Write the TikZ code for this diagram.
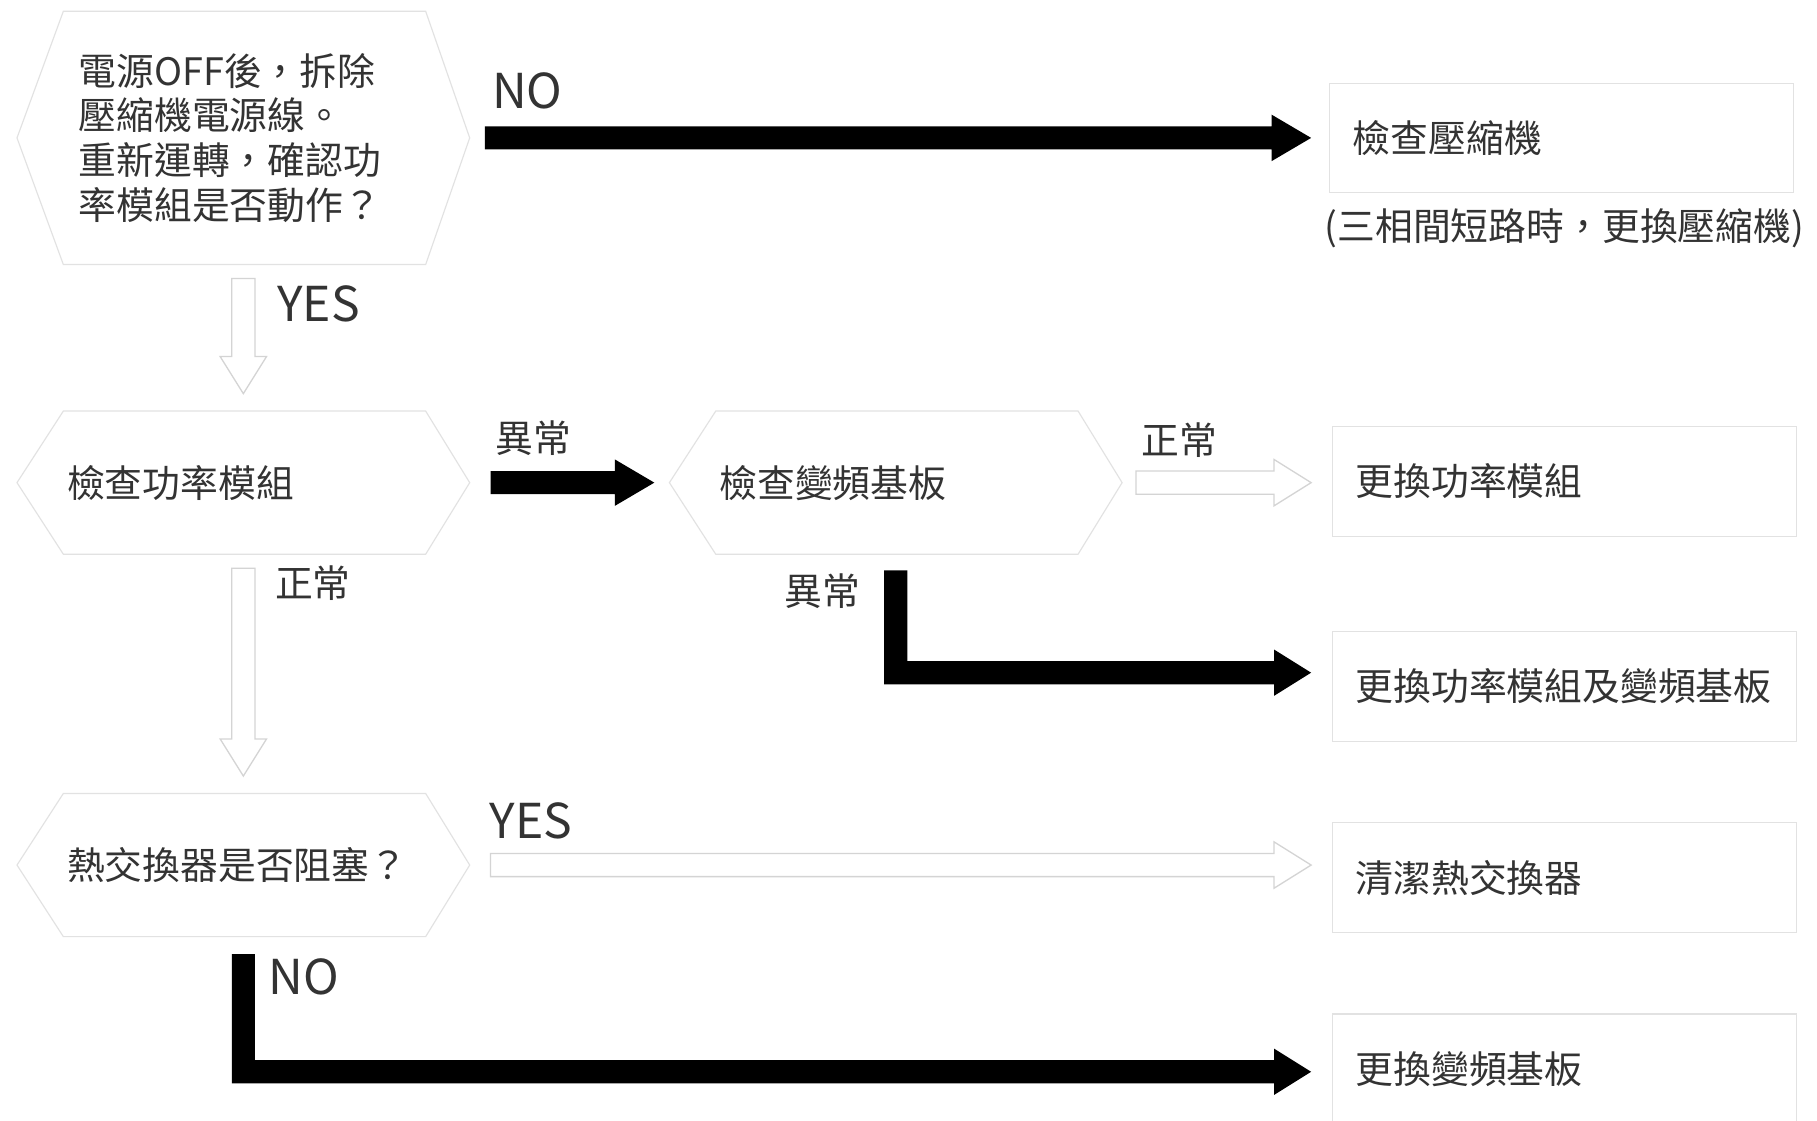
\documentclass[tikz,border=0pt]{standalone}
\usepackage{fontspec}
\setmainfont{Noto Sans CJK TC}
\usetikzlibrary{calc}
\definecolor{txt}{HTML}{333333}
\definecolor{hexc}{HTML}{E2E2E2}
\definecolor{holc}{HTML}{D4D4D4}
\def\arsw{0.25cm}
\def\arhw{0.5cm}
\def\arhl{0.8cm}
\newcommand\hexpath[1]{\draw[hexline] (#1.west) -- ([xshift=1cm]#1.north west) -- ([xshift=-0.95cm]#1.north east) -- (#1.east) -- ([xshift=-0.95cm]#1.south east) -- ([xshift=1cm]#1.south west) -- cycle;}
\newcommand\hollowH[2]{\draw[hollow] let \p1=#1, \p2=#2 in
 (\x1,\y1+\arsw) -- (\x2-\arhl,\y1+\arsw) -- (\x2-\arhl,\y1+\arhw) -- (\x2,\y1) -- (\x2-\arhl,\y1-\arhw) -- (\x2-\arhl,\y1-\arsw) -- (\x1,\y1-\arsw) -- cycle;}
\newcommand\hollowV[2]{\draw[hollow] let \p1=#1, \p2=#2 in
 (\x1-\arsw,\y1) -- (\x1-\arsw,\y2+\arhl) -- (\x1-\arhw,\y2+\arhl) -- (\x1,\y2) -- (\x1+\arhw,\y2+\arhl) -- (\x1+\arsw,\y2+\arhl) -- (\x1+\arsw,\y1) -- cycle;}
\newcommand\blackH[2]{\fill[black] let \p1=#1, \p2=#2 in
 (\x1,\y1+\arsw) -- (\x2-0.85cm,\y1+\arsw) -- (\x2-0.85cm,\y1+\arhw) -- (\x2,\y1) -- (\x2-0.85cm,\y1-\arhw) -- (\x2-0.85cm,\y1-\arsw) -- (\x1,\y1-\arsw) -- cycle;}
\newcommand\blackL[2]{\fill[black] let \p1=#1, \p2=#2 in
 (\x1-\arsw,\y1) -- (\x1-\arsw,\y2-\arsw) -- (\x2-\arhl,\y2-\arsw) -- (\x2-\arhl,\y2-\arhw) -- (\x2,\y2) -- (\x2-\arhl,\y2+\arhw) -- (\x2-\arhl,\y2+\arsw) -- (\x1+\arsw,\y2+\arsw) -- (\x1+\arsw,\y1) -- cycle;}
\tikzset{
  hexline/.style={draw=hexc, line width=0.7pt},
  hollow/.style={draw=holc, line width=0.8pt, fill=white},
  hexnode/.style={text=txt, inner ysep=0pt, inner xsep=1.075cm, text width=7.6cm, align=left,
    minimum width=9.75cm, minimum height=3.075cm, font=\fontsize{23.2pt}{27.4pt}\selectfont},
  boxnode/.style={draw=hexc, line width=0.7pt, text=txt, inner ysep=0pt, inner xsep=0.5cm, text width=9cm, align=left,
    minimum width=10cm, minimum height=2.375cm, font=\fontsize{23.2pt}{27.4pt}\selectfont},
  cjklab/.style={text=txt, inner sep=0pt, font=\fontsize{23.2pt}{27.4pt}\selectfont},
  latlab/.style={text=txt, inner sep=0pt, font=\fontsize{29.5pt}{33pt}\selectfont},
}
\begin{document}
\begin{tikzpicture}[x=0.025cm, y=-0.025cm]
\fill[white] (0,0) rectangle (1568,967);
\useasboundingbox (0,0) rectangle (1568,967);

% decision hexagons
\node[hexnode, inner xsep=1.325cm, text width=7.1cm, minimum height=5.45cm] (h1) at (210,119)
  {電源OFF後，拆除\\壓縮機電源線。\\重新運轉，確認功\\率模組是否動作？};
\node[hexnode] (h2) at (210,416.5) {檢查功率模組};
\node[hexnode] (h3) at (773,416.5) {檢查變頻基板};
\node[hexnode] (h4) at (210,746.5) {熱交換器是否阻塞？};
\hexpath{h1}
\hexpath{h2}
\hexpath{h3}
\hexpath{h4}

% result boxes
\node[boxnode, minimum width=10.025cm, minimum height=2.35cm] (b1) at (1347.5,119) {檢查壓縮機};
\node[boxnode] (b2) at (1350,415.5) {更換功率模組};
\node[boxnode] (b3) at (1350,592.5) {更換功率模組及變頻基板};
\node[boxnode] (b4) at (1350,757.5) {清潔熱交換器};
\node[boxnode] (b5) at (1350,922.5) {更換變頻基板};
\node[cjklab] (note) at (1350,197) {(三相間短路時，更換壓縮機)};

% connectors
\blackH{([xshift=0.325cm]h1.east)}{([xshift=-0.375cm]b1.west)}
\hollowV{([yshift=-0.3cm]h1.south)}{([yshift=0.375cm]h2.north)}
\blackH{([xshift=0.45cm]h2.east)}{([xshift=-0.325cm]h3.west)}
\hollowH{([xshift=0.3cm]h3.east)}{([xshift=-0.45cm]b2.west)}
\blackL{([yshift=-0.35cm]h3.south)}{([xshift=-0.45cm,yshift=0.3cm]b3.west)}
\hollowV{([yshift=-0.3cm]h2.south)}{([yshift=0.375cm]h4.north)}
\hollowH{([xshift=0.45cm]h4.east)}{([xshift=-0.45cm]b4.west)}
\blackL{([yshift=-0.375cm]h4.south)}{([xshift=-0.45cm,yshift=-0.06cm]b5.west)}

% labels
\node[latlab] (lno1) at (455,78) {NO};
\node[latlab] (lyes1) at (275,262) {YES};
\node[cjklab] (lab1) at (460,378) {異常};
\node[cjklab] (lok1) at (1018,380) {正常};
\node[cjklab] (lok2) at (270,503) {正常};
\node[cjklab] (lab2) at (710,510) {異常};
\node[latlab] (lyes2) at (458,708) {YES};
\node[latlab] (lno2) at (262,843) {NO};
\end{tikzpicture}
\end{document}
